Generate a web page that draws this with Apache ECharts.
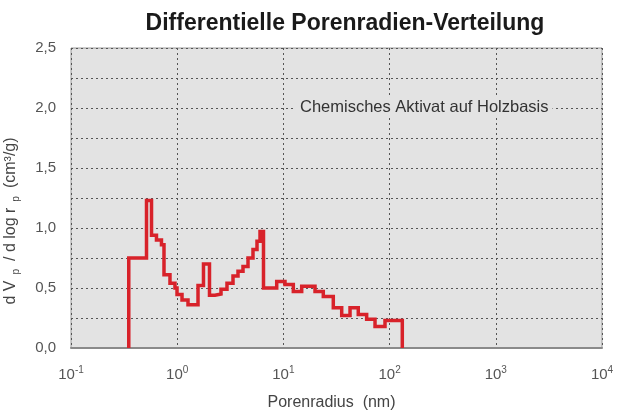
<!DOCTYPE html>
<html>
<head>
<meta charset="utf-8">
<script src="https://cdn.jsdelivr.net/npm/echarts@6/dist/echarts.min.js"></script>
<style>
  html, body { margin: 0; padding: 0; background: #fff; }
  #chart { width: 622px; height: 416px; }
</style>
</head>
<body>
<div id="chart"></div>
<script>
// bin edges of the pore radius classes (nm), one more than the values
var binEdges = [0.35, 0.514, 0.573, 0.638, 0.711, 0.751, 0.855, 0.953, 0.996, 1.11, 1.264,
  1.57, 1.768, 2.014, 2.27, 2.585, 2.943, 3.353, 3.737, 4.165, 4.642, 5.173, 5.642, 6.022,
  6.495, 8.65, 10.35, 12.4, 14.87, 19.85, 23.75, 29.5, 35.4, 42.4, 50.7, 60.8, 72.9, 90.5, 131.7];
// dV/dlog r (cm3/g) per class
var dvValues = [0.75, 1.23, 0.94, 0.90, 0.86, 0.61, 0.54, 0.50, 0.445, 0.40,
  0.36, 0.52, 0.70, 0.44, 0.45, 0.49, 0.54, 0.60, 0.64, 0.68, 0.75, 0.82, 0.89, 0.97,
  0.50, 0.555, 0.53, 0.47, 0.515, 0.47, 0.43, 0.335, 0.27, 0.335, 0.28, 0.24, 0.18, 0.23];
var yTicks = [0, 0.5, 1.0, 1.5, 2.0, 2.5];

// step outline: rise from 0, each class flat, fall to 0 at the last edge
var stepData = [[binEdges[0], 0]];
for (var i = 0; i < dvValues.length; i++) {
  stepData.push([binEdges[i], dvValues[i]]);
}
stepData.push([binEdges[binEdges.length - 1], dvValues[dvValues.length - 1]]);
stepData.push([binEdges[binEdges.length - 1], 0]);

var font = 'Liberation Sans';
var chart = echarts.init(document.getElementById('chart'));
chart.setOption({
  animation: false,
  title: {
    text: 'Differentielle Porenradien-Verteilung',
    left: 340, top: 7, textAlign: 'center',
    textStyle: { fontFamily: font, fontWeight: 'bold', fontSize: 23, color: '#1a1a1a' }
  },
  grid: {
    left: 71, right: 20, top: 48, bottom: 65,
    show: true, backgroundColor: '#e3e3e3', borderColor: '#9a9a9a', borderWidth: 1
  },
  graphic: [{
    type: 'text', left: 296, top: 98, z: 10,
    style: {
      text: 'Chemisches Aktivat auf Holzbasis', font: '16.5px "Liberation Sans"', fill: '#333',
      backgroundColor: '#e3e3e3', padding: [1, 4, 1, 4]
    }
  }, {
    // rotated y axis title with subscripts
    type: 'text', x: 11, y: 221, rotation: Math.PI / 2, z: 10,
    style: {
      text: '{t|d V}{s|p}{t|/ d log r}{s|p}{t|(cm³/g)}',
      align: 'center', verticalAlign: 'middle',
      rich: {
        t: { fontFamily: font, fontSize: 16, fill: '#444' },
        s: { fontFamily: font, fontSize: 10, fill: '#444', verticalAlign: 'top', padding: [10, 8, 0, 6] }
      }
    }
  }],
  xAxis: {
    type: 'log', logBase: 10, min: 0.1, max: 10000,
    name: 'Porenradius  (nm)', nameLocation: 'middle', nameGap: 47,
    nameTextStyle: { fontFamily: font, fontSize: 16, color: '#444', padding: [0, 10, 0, 0] },
    axisLine: { lineStyle: { color: '#8a8a8a', width: 2 } },
    axisTick: { show: false },
    axisLabel: {
      margin: 17,
      formatter: function (v) {
        return '{b|10}{s|' + Math.round(Math.log10(v)) + '}';
      },
      rich: {
        b: { fontFamily: font, fontSize: 15, color: '#555' },
        s: { fontFamily: font, fontSize: 10, color: '#555', verticalAlign: 'bottom', padding: [0, 0, 9, 0] }
      }
    },
    splitLine: { show: true, lineStyle: { color: '#555', type: [2, 3], width: 1 } }
  },
  yAxis: {
    type: 'value', min: 0, max: 2.5, interval: 0.25,
    axisLine: { show: false },
    axisTick: { show: false },
    axisLabel: {
      margin: 15, fontFamily: font, fontSize: 15, color: '#555',
      formatter: function (v) {
        return yTicks.some(function (t) { return Math.abs(t - v) < 1e-6; }) ? v.toFixed(1).replace('.', ',') : '';
      }
    },
    splitLine: { show: true, lineStyle: { color: '#555', type: [2, 3], width: 1 } }
  },
  series: [{
    type: 'line', step: 'end', data: stepData,
    showSymbol: false, symbol: 'none',
    lineStyle: { color: '#d8222a', width: 3.5, join: 'miter' }
  }]
});
</script>
</body>
</html>
